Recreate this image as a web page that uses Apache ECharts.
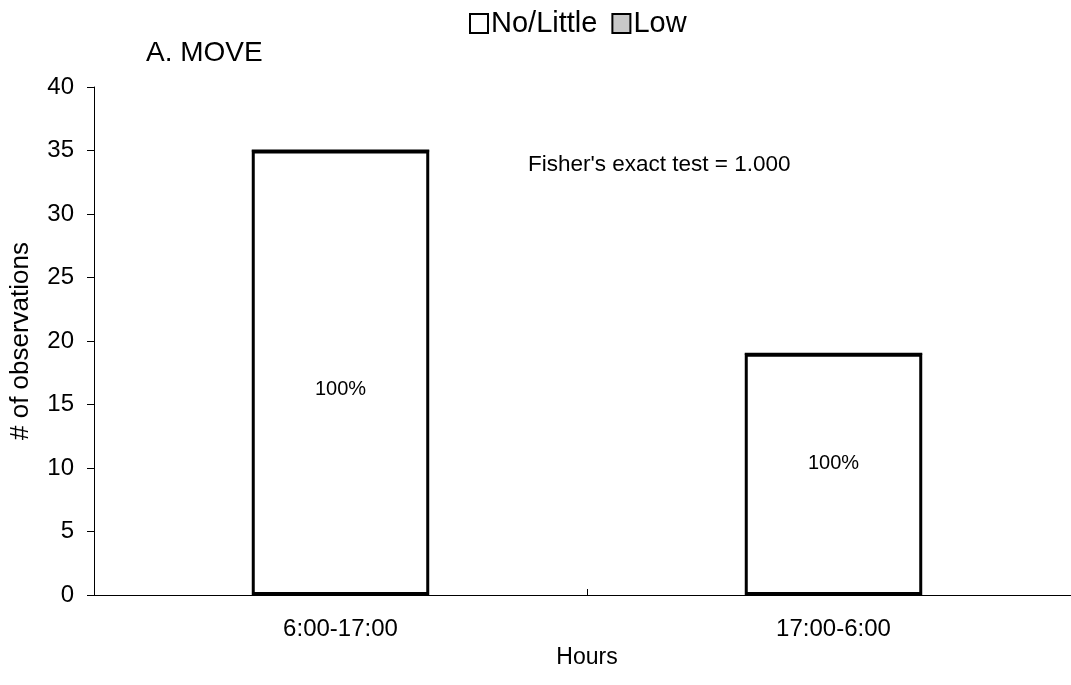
<!DOCTYPE html>
<html>
<head>
<meta charset="utf-8">
<script src="https://cdn.jsdelivr.net/npm/echarts@6/dist/echarts.min.js"></script>
<style>
  html, body { margin: 0; padding: 0; background: #fff; overflow: hidden; }
  #main { width: 1080px; height: 685px; }
</style>
</head>
<body>
<div id="main"></div>
<script>
const categories = ["6:00-17:00", "17:00-6:00"];
const noLittle = [35, 19];
const low = [0, 0];
const barLabels = ["100%", "100%"];
const yTicks = { min: 0, max: 40, interval: 5 };

const font = "Liberation Sans, Arial, Helvetica, sans-serif";
const myChart = echarts.init(document.getElementById("main"));

const option = {
  backgroundColor: "#fff",
  animation: false,
  textStyle: { fontFamily: font, color: "#000" },
  title: {
    text: "A. MOVE",
    left: 141,
    top: 34,
    textStyle: { fontFamily: font, fontSize: 28, fontWeight: "normal", color: "#000" },
  },
  legend: {
    top: 4,
    left: 464,
    itemGap: 14,
    itemWidth: 18,
    itemHeight: 19,
    textStyle: { fontFamily: font, fontSize: 29, color: "#000", padding: [0, 0, 0, -2] },
    data: [
      { name: "No/Little", icon: "rect", itemStyle: { color: "#fff", borderColor: "#000", borderWidth: 2 } },
      { name: "Low", icon: "rect", itemStyle: { color: "#c8c8c8", borderColor: "#000", borderWidth: 2 } },
    ],
  },
  grid: {
    left: 93,
    right: 0,
    top: 87,
    bottom: 90,
  },
  xAxis: {
    type: "category",
    data: categories,
    name: "Hours",
    nameLocation: "middle",
    nameGap: 42,
    nameTextStyle: { fontFamily: font, fontSize: 23, color: "#000" },
    axisLine: { lineStyle: { color: "#000", width: 1 } },
    axisTick: { show: true, length: 6, inside: true, lineStyle: { color: "#000" } },
    axisLabel: { fontFamily: font, fontSize: 24, color: "#000", margin: 22 },
  },
  yAxis: {
    type: "value",
    min: yTicks.min,
    max: yTicks.max,
    interval: yTicks.interval,
    name: "# of observations",
    nameLocation: "middle",
    nameGap: 60,
    nameTextStyle: { fontFamily: font, fontSize: 26, color: "#000" },
    axisLine: { show: true, lineStyle: { color: "#000", width: 1 } },
    axisTick: { show: true, length: 7, lineStyle: { color: "#000" } },
    axisLabel: { fontFamily: font, fontSize: 24, color: "#000", margin: 20 },
    splitLine: { show: false },
  },
  series: [
    {
      name: "No/Little",
      type: "bar",
      stack: "total",
      barWidth: "36%",
      data: noLittle.map((v, i) => ({ value: v, label: { offset: [0, i === 0 ? 17 : -11] } })),
      itemStyle: { color: "#fff", borderColor: "#000", borderWidth: 3 },
      label: {
        show: true,
        position: "inside",
        formatter: (p) => barLabels[p.dataIndex],
        fontFamily: font,
        fontSize: 20,
        color: "#000",
      },
    },
    {
      name: "Low",
      type: "bar",
      stack: "total",
      data: low,
      itemStyle: { color: "#c8c8c8", borderColor: "#000", borderWidth: 2 },
    },
  ],
  graphic: [
    {
      type: "text",
      left: 528,
      top: 153,
      style: { text: "Fisher's exact test = 1.000", font: "22.5px " + font, fill: "#000" },
    },
  ],
};

myChart.setOption(option);
</script>
</body>
</html>
